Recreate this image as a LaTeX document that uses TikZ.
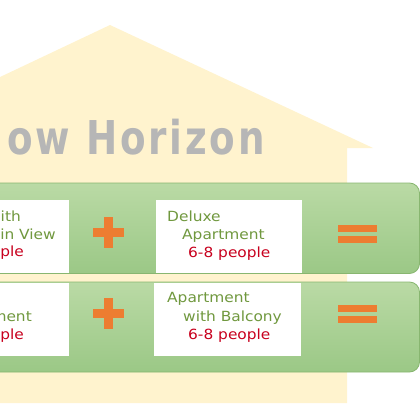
\documentclass[tikz,border=0pt]{standalone}
\usepackage{fontspec}
\setmainfont{DejaVu Sans}
\newfontfamily\roomfont{DejaVu Sans}[FakeStretch=1.1]
\newfontfamily\brandfont{DejaVu Sans}[FakeStretch=0.8, LetterSpace=6]
\usepackage{tikz}
\usetikzlibrary{positioning}
\definecolor{houseYellow}{RGB}{255,243,206}
\definecolor{barTop}{RGB}{186,218,165}
\definecolor{barBot}{RGB}{155,200,134}
\definecolor{barEdge}{RGB}{136,182,112}
\definecolor{signOrange}{RGB}{237,125,49}
\definecolor{roomGreen}{RGB}{112,152,62}
\definecolor{paxRed}{RGB}{200,0,30}
\definecolor{brandGray}{RGB}{182,182,182}

\tikzset{
  bar/.style={rounded corners=10pt, top color=barTop, bottom color=barBot, draw=barEdge, line width=0.8pt},
  panel/.style={fill=white, draw=none, inner sep=0pt},
  room/.style={text=roomGreen, font=\roomfont\fontsize{14}{16}\selectfont, inner sep=0pt},
  pax/.style={text=paxRed, font=\roomfont\fontsize{14}{16}\selectfont, inner sep=0pt},
  brand/.style={text=brandGray, font=\brandfont\bfseries\fontsize{46.6}{50}\selectfont, inner sep=0pt},
  plussign/.pic={
    \fill[signOrange] (-15.5,-4.5) rectangle (15.5,4.5);
    \fill[signOrange] (-4.5,-15.5) rectangle (4.5,15.5);
  },
  equalsign/.pic={
    \fill[signOrange] (-19.5,-8) rectangle (19.5,-1);
    \fill[signOrange] (-19.5,2.5) rectangle (19.5,9.5);
  }
}

\begin{document}
\begin{tikzpicture}[x=1pt, y=-1pt]
    \useasboundingbox (0,0) rectangle (420,420);
    \clip (0,0) rectangle (420,420);
    % house outline behind everything
    \fill[houseYellow] (-5,79.4) -- (110,25) -- (373,148) -- (347,148) -- (347,403) -- (-5,403) -- cycle;
    \node[brand, anchor=base east] (brandname) at (265,154) {ow Horizon};
    % the two green bars
    \shadedraw[bar] (-20,183) rectangle (419.5,273.5);
    \shadedraw[bar] (-20,282) rectangle (419.5,372);
    % white panels
    \node[panel, minimum width=149pt, minimum height=73pt] (viewA) at (-5.5,236.5) {};
    \node[panel, minimum width=146pt, minimum height=73pt] (deluxeA) at (229,236.5) {};
    \node[panel, minimum width=149pt, minimum height=73pt] (stdB) at (-5.5,319.5) {};
    \node[panel, minimum width=147pt, minimum height=73pt] (balconyB) at (227.5,319.5) {};
    % first row texts
    \node[room, anchor=base east] (viewA1) at (21,221) {with};
    \node[room, anchor=base east] (viewA2) at (56,239) {in View};
    \node[pax, anchor=base east] (viewA3) at (24,256) {ple};
    \node[room, anchor=base west] (deluxeA1) at (167,221) {Deluxe};
    \node[room, anchor=base west] (deluxeA2) at (182,239) {Apartment};
    \node[pax, anchor=base west] (deluxeA3) at (188,257) {6-8 people};
    % second row texts
    \node[room, anchor=base east] (stdB2) at (32,321) {ment};
    \node[pax, anchor=base east] (stdB3) at (24,339) {ple};
    \node[room, anchor=base west] (balconyB1) at (167,302) {Apartment};
    \node[room, anchor=base west] (balconyB2) at (183,321) {with Balcony};
    \node[pax, anchor=base west] (balconyB3) at (188,339) {6-8 people};
    % plus and equals signs
    \pic at (108,232) {plussign};
    \pic at (108,313) {plussign};
    \pic at (357,233) {equalsign};
    \pic at (357,313) {equalsign};
\end{tikzpicture}
\end{document}
